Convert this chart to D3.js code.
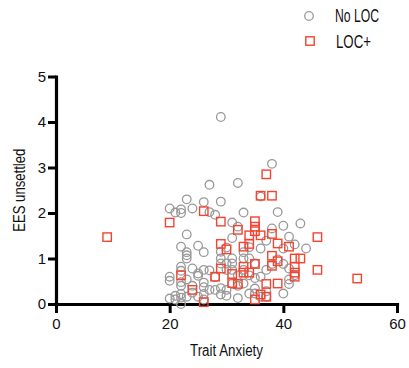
<!DOCTYPE html>
<html>
<head>
<meta charset="utf-8">
<script src="https://cdn.jsdelivr.net/npm/d3@7"></script>
<style>
  html, body { margin: 0; padding: 0; background: #fff; }
  svg text { font-family: "Liberation Sans", Arial, sans-serif; fill: #111; }
</style>
</head>
<body>
<svg id="chart" width="409" height="368"></svg>
<script>
// Trait anxiety vs. EES unsettled, by loss-of-control group
const noLocX = [29,38,27,32,23,24,26,29,20,21,22,22,27,28,33,39,36,40,43,31,32,38,41,23,31,42,44,40,37,36,22,25,26,23,23,23,30,29,29,34,33,31,31,33,34,35,38,39,40,41,22,22,24,20,20,25,25,26,27,28,23,24,22,22,26,26,27,28,29,30,31,32,33,34,35,36,37,41,41,42,40,20,21,21,22,22,22,23,24,25,26,26,29,30,32,34,35,36,37,37,35,31,32,33,30,29,30];
const noLocY = [4.11,3.08,2.62,2.66,2.30,2.10,2.24,2.25,2.10,2.01,2.08,2.00,2.02,1.96,2.01,2.02,2.36,1.72,1.77,1.79,1.70,1.66,1.48,1.53,1.45,1.31,1.22,1.22,1.39,1.22,1.26,1.28,1.14,1.14,1.07,1.00,1.24,1.15,1.00,1.25,1.14,1.00,0.89,1.00,1.00,0.89,0.88,0.98,0.88,0.78,0.82,0.73,0.78,0.60,0.51,0.67,0.62,0.75,0.74,0.59,0.54,0.40,0.40,0.48,0.47,0.37,0.31,0.31,0.35,0.31,0.44,0.40,0.45,0.63,0.57,0.60,0.75,0.54,0.44,0.63,0.23,0.12,0.18,0.10,0.22,0.14,0.00,0.16,0.25,0.16,0.22,0.10,0.21,0.18,0.13,0.23,0.23,0.16,0.28,0.16,0.34,0.75,0.63,0.75,0.75,0.89,0.89];

const locX = [9,20,26,29,37,36,38,35,35,35,32,34,36,38,39,46,29,30,33,34,41,42,43,38,39,38,35,33,34,29,42,42,42,46,53,22,28,31,32,33,31,37,39,24,26,35,36,37];
const locY = [1.47,1.79,2.04,1.81,2.85,2.38,2.38,1.82,1.70,1.60,1.63,1.51,1.51,1.54,1.33,1.47,1.32,1.20,1.26,1.32,1.26,1.00,1.00,1.06,0.94,0.84,0.88,0.82,0.69,0.78,0.82,0.69,0.60,0.75,0.56,0.63,0.60,0.66,0.44,0.69,0.46,0.44,0.45,0.31,0.04,0.10,0.21,0.16];

const xTicks = [0, 20, 40, 60];
const yTicks = [0, 1, 2, 3, 4, 5];
const seriesNames = ["No LOC", "LOC+"];

const grey = "#999999";
const red = "#f4432f";

const svg = d3.select("#chart");
const x = d3.scaleLinear().domain([0, 60]).range([56, 397]);
const y = d3.scaleLinear().domain([0, 5]).range([304, 76.5]);

// Axes
const xAxis = svg.append("g")
  .attr("transform", `translate(0,${y(0)})`)
  .call(d3.axisBottom(x).tickValues(xTicks).tickFormat(d3.format("d"))
    .tickSize(9).tickPadding(5).tickSizeOuter(0));
const yAxis = svg.append("g")
  .attr("transform", `translate(${x(0)},0)`)
  .call(d3.axisLeft(y).tickValues(yTicks).tickFormat(d3.format("d"))
    .tickSize(8).tickPadding(2).tickSizeOuter(0));

[xAxis, yAxis].forEach(g => {
  g.select(".domain").attr("stroke", "#000").attr("stroke-width", 3.2).attr("stroke-linecap", "square");
  g.selectAll(".tick line").attr("stroke", "#000").attr("stroke-width", 3);
  g.selectAll(".tick text").attr("font-size", 15).attr("fill", "#111")
    .style("font-family", '"Liberation Sans", Arial, sans-serif');
});

// Points: circles first, squares on top
const r = 4.3;
svg.append("g").selectAll("circle")
  .data(noLocX.map((v, i) => [v, noLocY[i]]))
  .join("circle")
  .attr("cx", d => x(d[0]))
  .attr("cy", d => y(d[1]))
  .attr("r", r)
  .attr("fill", "none")
  .attr("stroke", grey)
  .attr("stroke-width", 1.3);

const s = 8.4;
svg.append("g").selectAll("rect")
  .data(locX.map((v, i) => [v, locY[i]]))
  .join("rect")
  .attr("x", d => x(d[0]) - s / 2)
  .attr("y", d => y(d[1]) - s / 2)
  .attr("width", s)
  .attr("height", s)
  .attr("fill", "none")
  .attr("stroke", red)
  .attr("stroke-width", 1.4);

// Axis titles (narrow lettering)
svg.append("text")
  .attr("x", (x(0) + x(60)) / 2)
  .attr("y", 356)
  .attr("text-anchor", "middle")
  .attr("font-size", 16)
  .attr("textLength", 73)
  .attr("lengthAdjust", "spacingAndGlyphs")
  .text("Trait Anxiety");

svg.append("text")
  .attr("transform", `translate(25,${(y(0) + y(5)) / 2}) rotate(-90)`)
  .attr("text-anchor", "middle")
  .attr("font-size", 16)
  .attr("textLength", 83)
  .attr("lengthAdjust", "spacingAndGlyphs")
  .text("EES unsettled");

// Legend
const legend = svg.append("g");
legend.append("circle")
  .attr("cx", 309).attr("cy", 16).attr("r", r)
  .attr("fill", "none").attr("stroke", grey).attr("stroke-width", 1.3);
legend.append("rect")
  .attr("x", 310 - s / 2).attr("y", 41 - s / 2).attr("width", s).attr("height", s)
  .attr("fill", "none").attr("stroke", red).attr("stroke-width", 1.4);
legend.append("text").attr("x", 335).attr("y", 22).attr("font-size", 18)
  .attr("textLength", 44).attr("lengthAdjust", "spacingAndGlyphs").text(seriesNames[0]);
legend.append("text").attr("x", 336).attr("y", 48).attr("font-size", 18)
  .attr("textLength", 35).attr("lengthAdjust", "spacingAndGlyphs").text(seriesNames[1]);
</script>
</body>
</html>
